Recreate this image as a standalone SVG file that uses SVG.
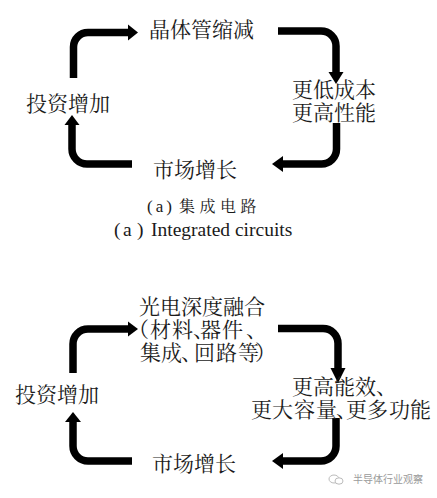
<svg xmlns="http://www.w3.org/2000/svg" width="437" height="498" viewBox="0 0 437 498">
<style>
.bg{fill:#ffffff}
.con{fill:none;stroke:#000;stroke-width:7.5;stroke-linecap:butt}
.head{fill:#000}
.t{font-family:"Noto Serif CJK SC","Noto Sans CJK SC",serif;font-size:21px;fill:#1a1a1a}
.cap{font-family:"Liberation Serif","Noto Sans CJK SC",serif;fill:#1a1a1a}
.wm{font-family:"Noto Sans CJK SC",sans-serif;font-size:10px;fill:#9a9a9a}
</style>
<rect class="bg" x="0" y="0" width="437" height="498"/>
<g id="connectors">
  <path class="con" d="M73.5 78 V47 A14.5 14.5 0 0 1 88 32.5 H129"/>
  <polygon class="head" points="128,24.5 138,32.5 128,40.5"/>
  <path class="con" d="M278 31 H321 A15 15 0 0 1 336 46 V73"/>
  <polygon class="head" points="328.5,72 343.5,72 336,84"/>
  <path class="con" d="M336.5 123 V149 A15 15 0 0 1 321.5 164 H283"/>
  <polygon class="head" points="283,156 283,172 272,164"/>
  <path class="con" d="M132 164 H87 A15 15 0 0 1 72 149 V124"/>
  <polygon class="head" points="64.5,125 79.5,125 72,115"/>

  <path class="con" d="M73 373 V344 A15 15 0 0 1 88 329 H129"/>
  <polygon class="head" points="128,321.5 138,329 128,336.5"/>
  <path class="con" d="M278 328.5 H323 A15 15 0 0 1 338 343.5 V369"/>
  <polygon class="head" points="330.5,368 345.5,368 338,383"/>
  <path class="con" d="M336 418 V446 A15 15 0 0 1 321 461 H283"/>
  <polygon class="head" points="283,453 283,469 272,461"/>
  <path class="con" d="M132 461 H88 A15 15 0 0 1 73 446 V421"/>
  <polygon class="head" points="65,422 81,422 73,412"/>
</g>
<g id="a-shrink"><text class="t" x="149" y="37">晶体管缩减</text></g>
<g id="a-cost"><text class="t"><tspan x="292" y="97">更低成本</tspan><tspan x="292" y="119.5">更高性能</tspan></text></g>
<g id="a-market"><text class="t" x="153" y="177">市场增长</text></g>
<g id="a-invest"><text class="t" x="26" y="111">投资增加</text></g>
<g id="caption-a">
  <text class="cap" font-size="17"><tspan x="147" y="212" letter-spacing="3">(a)</tspan><tspan x="179" y="212" font-size="16" letter-spacing="4.5" font-family="Noto Serif CJK SC, Noto Sans CJK SC, serif">集成电路</tspan></text>
  <text class="cap" font-size="19.5" y="236"><tspan x="114">(</tspan><tspan x="123">a</tspan><tspan x="137">)</tspan><tspan x="151">Integrated circuits</tspan></text>
</g>
<g id="b-fusion">
  <text class="t"><tspan x="139" y="314">光电深度融合</tspan><tspan y="337" x="128 150 172 193 200 222 246">（材料、器件、</tspan><tspan y="360" x="140 161 181 194 216 238 255">集成、回路等）</tspan></text>
</g>
<g id="b-eff">
  <text class="t"><tspan x="292" y="394">更高能效、</tspan><tspan y="417" x="251 272 294 316 336 346 367 389 410">更大容量、更多功能</tspan></text>
</g>
<g id="b-market"><text class="t" x="152" y="471">市场增长</text></g>
<g id="b-invest"><text class="t" x="15" y="402">投资增加</text></g>
<g id="watermark">
  <ellipse cx="334" cy="479" rx="5" ry="4" fill="none" stroke="#bbb" stroke-width="1"/>
  <ellipse cx="339" cy="481" rx="4" ry="3.2" fill="#fff" stroke="#bbb" stroke-width="1"/>
  <text class="wm" x="353" y="483">半导体行业观察</text>
</g>
</svg>
